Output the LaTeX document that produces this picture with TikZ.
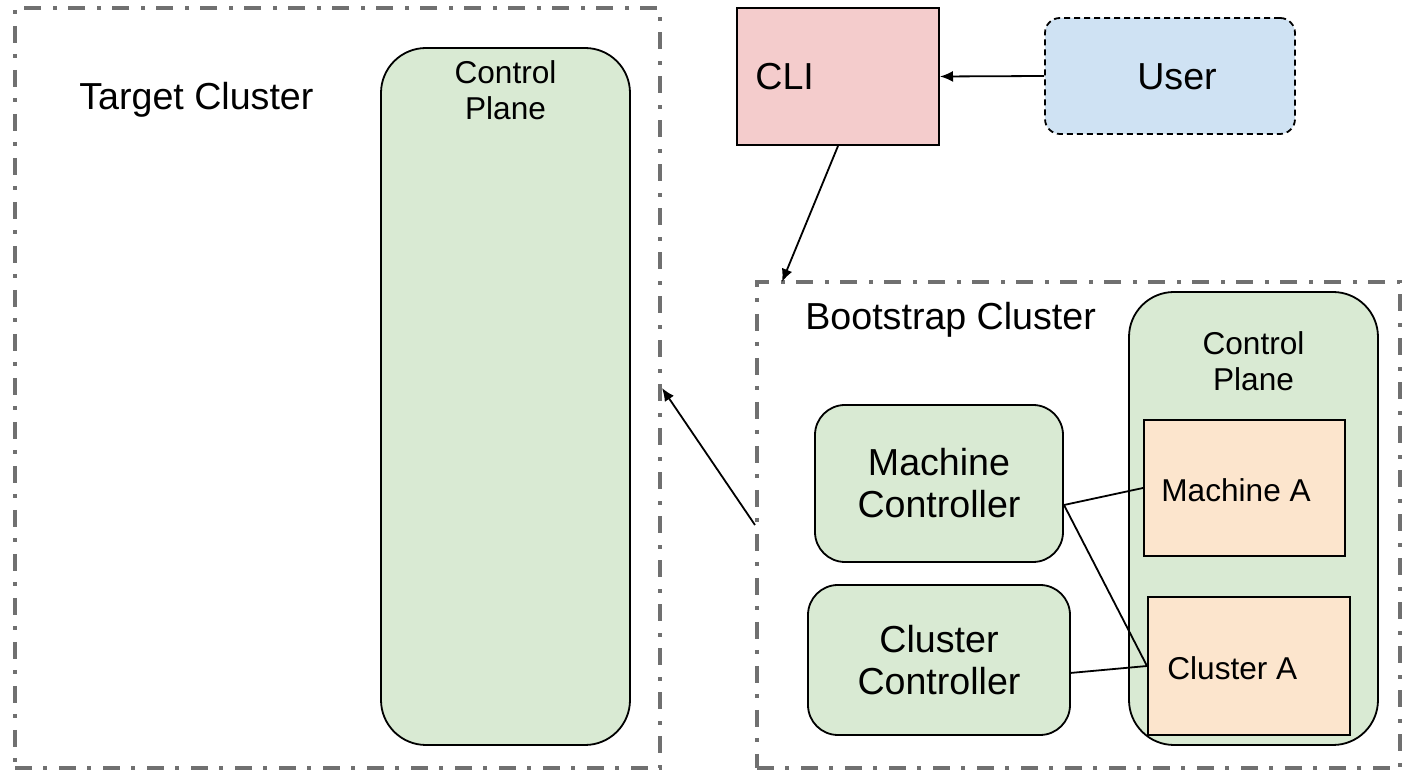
\documentclass[tikz,border=0pt]{standalone}
\usepackage{fontspec}
\setmainfont{Liberation Sans}
\usetikzlibrary{arrows.meta,calc}
\definecolor{dashgray}{HTML}{707070}
\definecolor{cpgreen}{HTML}{D9EAD3}
\definecolor{clipink}{HTML}{F4CCCC}
\definecolor{userblue}{HTML}{CFE2F3}
\definecolor{machorange}{HTML}{FCE5CD}
\tikzset{
  clusterbox/.style={draw=dashgray, line width=2pt, dash pattern=on 8.5pt off 5.5pt on 2pt off 6pt, rectangle, inner sep=0pt},
  cpbox/.style={draw=black, line width=0.9pt, fill=cpgreen, rounded corners=22.5pt, rectangle, inner sep=0pt},
  ctrlbox/.style={draw=black, line width=0.9pt, fill=cpgreen, rounded corners=15pt, rectangle, inner sep=0pt, align=center, font=\bigfont},
  clibox/.style={draw=black, line width=1pt, fill=clipink, rectangle, inner sep=0pt},
  userbox/.style={draw=black, line width=0.9pt, dashed, dash pattern=on 3pt off 2pt, fill=userblue, rounded corners=7.5pt, rectangle, inner sep=0pt, font=\bigfont},
  resbox/.style={draw=black, line width=1pt, fill=machorange, rectangle, inner sep=0pt},
  link/.style={draw=black, line width=0.9pt},
  arrowlink/.style={link, -{Latex[length=6.5pt,width=5.5pt]}},
  bigtext/.style={font=\bigfont, inner sep=0pt, align=center},
  smalltext/.style={font=\smallfont, inner sep=0pt, align=center},
}
\newcommand{\bigfont}{\fontsize{18.8}{21}\selectfont}
\newcommand{\smallfont}{\fontsize{15.8}{18}\selectfont}
\begin{document}
\begin{tikzpicture}[x=0.5pt,y=-0.5pt]
\useasboundingbox (0,0) rectangle (1405,774);
% target cluster
\node[clusterbox, minimum width=322.5pt, minimum height=380pt] (target) at (337.5,388) {};
\node[cpbox, minimum width=124.5pt, minimum height=348.5pt] (tcp) at (505.5,396.5) {};
\node[bigtext, anchor=west] (tlabel) at (79,100) {Target Cluster};
\node[smalltext] (tcplabel) at (505.5,90) {Control\\Plane};
% CLI and user
\node[clibox, minimum width=101pt, minimum height=68.5pt] (cli) at (838,76.5) {};
\node[bigtext, anchor=west] (clilabel) at (755,77) {CLI};
\node[userbox, minimum width=125pt, minimum height=58pt] (user) at (1170,76) {};
\node[bigtext] (userlabel) at (1177,77) {User};
% bootstrap cluster
\node[clusterbox, minimum width=321.5pt, minimum height=243pt] (boot) at (1078.5,525) {};
\node[bigtext, anchor=west] (blabel) at (805,320) {Bootstrap Cluster};
\node[cpbox, minimum width=124.5pt, minimum height=226.5pt] (bcp) at (1253.5,518.5) {};
\node[smalltext] (bcplabel) at (1253.5,361) {Control\\Plane};
\node[resbox, minimum width=100.5pt, minimum height=68pt] (ma) at (1244.5,488) {};
\node[smalltext, anchor=west] (malabel) at (1161,490) {Machine A};
\node[resbox, minimum width=101pt, minimum height=69pt] (ca) at (1249,666) {};
\node[smalltext, anchor=west] (calabel) at (1167,668) {Cluster A};
\node[ctrlbox, minimum width=124pt, minimum height=78.5pt] (mc) at (939,483.5) {Machine\\Controller};
\node[ctrlbox, minimum width=131pt, minimum height=75pt] (cc) at (939,660) {Cluster\\Controller};
% connectors
\coordinate (bootin) at (782,282);
\coordinate (mcout) at (1064,505);
\coordinate (ccout) at (1070,673);
\draw[arrowlink] (user.west) -- (cli.east);
\draw[arrowlink] (cli.south) -- (bootin);
\draw[arrowlink] (boot.west) -- (target.east);
\draw[link] (mcout) -- (ma.west);
\draw[link] (mcout) -- (ca.west);
\draw[link] (ccout) -- (ca.west);
\end{tikzpicture}
\end{document}
